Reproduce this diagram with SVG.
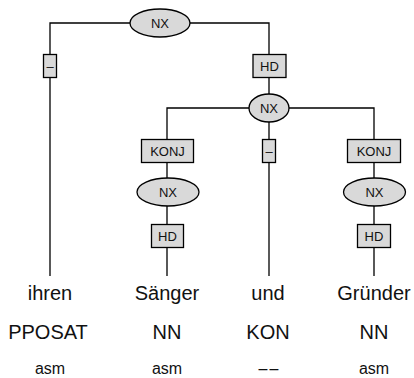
<svg xmlns="http://www.w3.org/2000/svg" width="414" height="378" viewBox="0 0 414 378">
<style>
.e{fill:#d9d9d9;stroke:#000;stroke-width:1.3}
.b{fill:#d9d9d9;stroke:#000;stroke-width:1.3}
.l{fill:none;stroke:#000;stroke-width:1.3}
.t{font-family:"Liberation Sans",Arial,sans-serif;font-size:13px;text-anchor:middle;fill:#111}
.w{font-family:"Liberation Sans",Arial,sans-serif;font-size:20px;text-anchor:middle;fill:#111}
.m{font-family:"Liberation Sans",Arial,sans-serif;font-size:16px;text-anchor:middle;fill:#111}
</style>
<rect width="414" height="378" fill="#fff"/>
<g id="connectors">
<path class="l" d="M50,276V23H269V95"/>
<path class="l" d="M167,276V108H374V276"/>
<path class="l" d="M269,108V276"/>
</g>
<g id="nx-root"><ellipse class="e" cx="160" cy="23" rx="30" ry="14"/><text class="t" x="160" y="28">NX</text></g>
<g id="edge-dash1"><rect class="b" x="43.5" y="54.5" width="13" height="23"/><text class="t" x="50" y="71">–</text></g>
<g id="edge-hd1"><rect class="b" x="253" y="54.5" width="33" height="23"/><text class="t" x="269.5" y="71">HD</text></g>
<g id="nx-coord"><ellipse class="e" cx="269" cy="108" rx="20" ry="14"/><text class="t" x="269" y="113">NX</text></g>
<g id="edge-konj1"><rect class="b" x="141.5" y="139.5" width="52" height="23"/><text class="t" x="167.5" y="156">KONJ</text></g>
<g id="edge-dash2"><rect class="b" x="262.5" y="139.5" width="13" height="23"/><text class="t" x="269" y="156">–</text></g>
<g id="edge-konj2"><rect class="b" x="347.5" y="139.5" width="53" height="23"/><text class="t" x="374" y="156">KONJ</text></g>
<g id="nx-left"><ellipse class="e" cx="168" cy="192" rx="31" ry="14"/><text class="t" x="168" y="197">NX</text></g>
<g id="nx-right"><ellipse class="e" cx="374.5" cy="192" rx="31" ry="14"/><text class="t" x="374.5" y="197">NX</text></g>
<g id="edge-hd2"><rect class="b" x="151.5" y="224.5" width="32" height="23"/><text class="t" x="167.5" y="241">HD</text></g>
<g id="edge-hd3"><rect class="b" x="357.5" y="224.5" width="33" height="23"/><text class="t" x="374" y="241">HD</text></g>
<g id="tok1"><text class="w" x="50" y="300">ihren</text><text class="w" x="48" y="339">PPOSAT</text><text class="m" x="50" y="374">asm</text></g>
<g id="tok2"><text class="w" x="167" y="300">Sänger</text><text class="w" x="167" y="339">NN</text><text class="m" x="167" y="374">asm</text></g>
<g id="tok3"><text class="w" x="268" y="300">und</text><text class="w" x="268" y="339">KON</text><text class="m" x="269.5" y="374" letter-spacing="2">––</text></g>
<g id="tok4"><text class="w" x="374" y="300">Gründer</text><text class="w" x="374" y="339">NN</text><text class="m" x="374" y="374">asm</text></g>
</svg>
